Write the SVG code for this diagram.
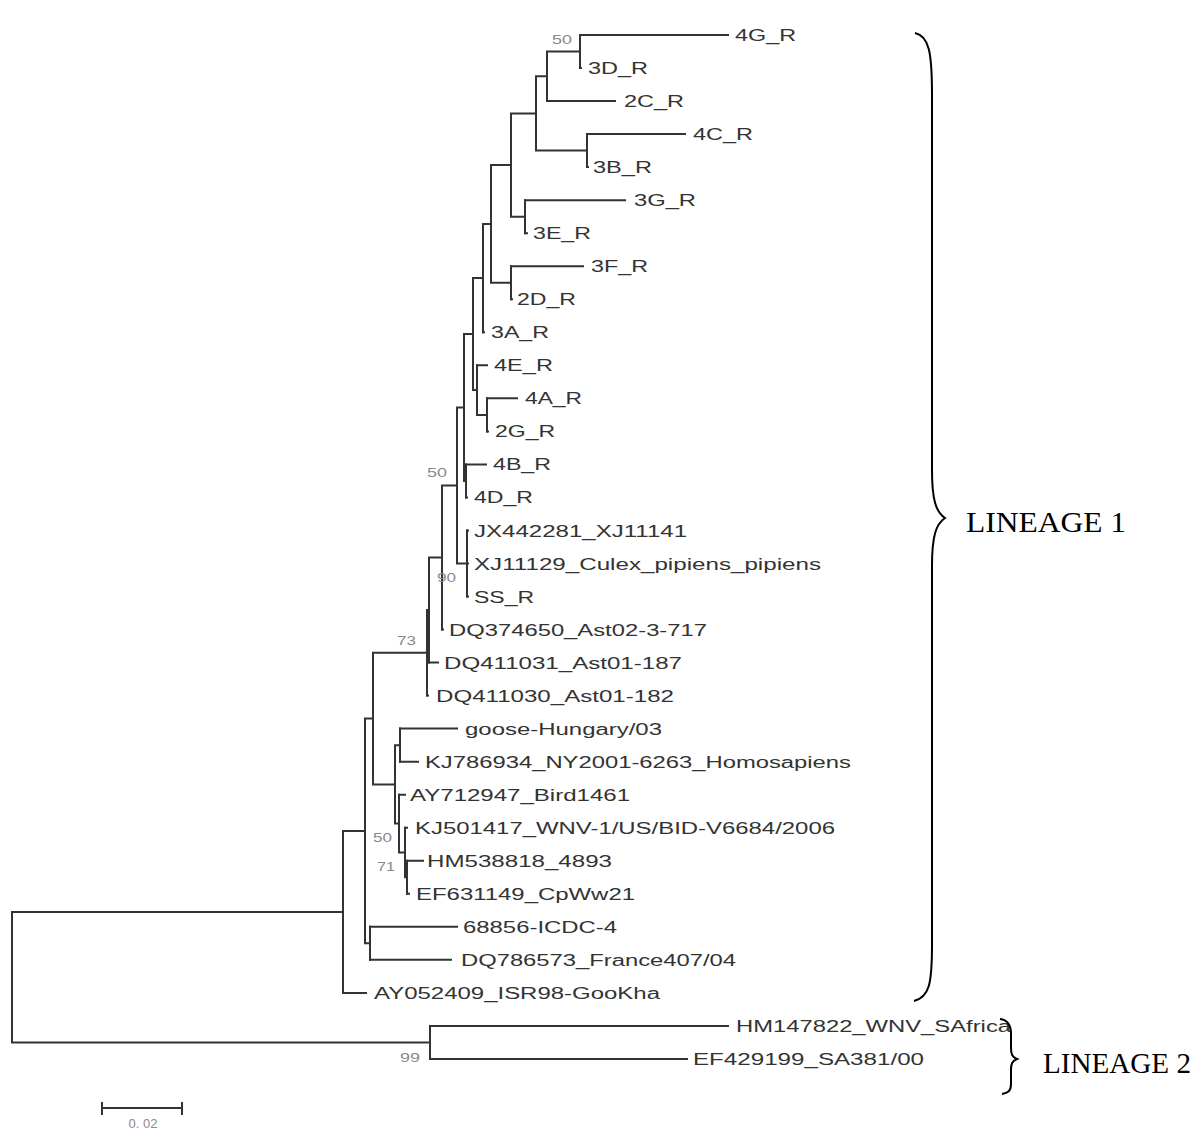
<svg xmlns="http://www.w3.org/2000/svg" width="1201" height="1131" viewBox="0 0 1201 1131">
<style>
.br{fill:none;stroke:#333;stroke-width:2;stroke-linecap:square}
.lb{font-family:"Liberation Sans",Arial,sans-serif;font-size:16px;fill:#333}
.bs{font-family:"Liberation Sans",Arial,sans-serif;font-size:13px;fill:#8a8a8a}
.ln{font-family:"Liberation Serif","Times New Roman",serif;font-size:29px;fill:#000}
.brace{fill:none;stroke:#000;stroke-width:2}
</style>
<rect width="1201" height="1131" fill="#fff"/>
<g id="connectors">
<path class="br" d="M580,35H728 M580,68H581 M547,101.1H615 M587,134.1H685 M587,167.1H588 M525,200.2H625 M525,233.2H527 M511,266.2H583 M511,299.2H512 M483,332.3H484 M477,365.3H487 M487,398.3H517 M487,431.4H488 M466,464.4H486 M466,497.4H467 M467,530.5H468 M467,563.5H468 M467,596.5H468 M442,629.5H443 M429,662.6H438 M427,695.6H428 M400,728.6H457 M400,761.7H418 M399,794.7H405 M405,827.7H407 M407,860.8H423 M407,893.8H409 M370,926.8H457 M370,959.8H451 M343,992.9H366 M430,1025.9H728 M430,1058.9H687"/>
<path class="br" d="M547,51.5H580 M580,35V68
M536,76.3H547 M547,51.5V101.1
M536,150.6H587 M587,134.1V167.1
M511,113.5H536 M536,76.3V150.6
M511,216.7H525 M525,200.2V233.2
M491,165.1H511 M511,113.5V216.7
M491,282.7H511 M511,266.2V299.2
M483,223.9H491 M491,165.1V282.7
M473,278.1H483 M483,223.9V332.3
M477,414.9H487 M487,398.3V431.4
M473,390.1H477 M477,365.3V414.9
M464,334.1H473 M473,278.1V390.1
M464,480.9H466 M466,464.4V497.4
M457,407.5H464 M464,334.1V480.9
M457,563.5H467 M467,530.5V596.5
M442,485.5H457 M457,407.5V563.5
M429,557.5H442 M442,485.5V629.5
M427,610.1H429 M429,557.5V662.6
M373,652.8H427 M427,610.1V695.6
M395,745.2H400 M400,728.6V761.7
M405,877.3H407 M407,860.8V893.8
M399,852.5H405 M405,827.7V877.3
M395,823.6H399 M399,794.7V852.5
M373,784.4H395 M395,745.2V823.6
M365,718.6H373 M373,652.8V784.4
M365,943.3H370 M370,926.8V959.8
M343,831H365 M365,718.6V943.3
M12,911.9H343 M343,831V992.9
M12,1042.4H430 M430,1025.9V1058.9
M12,911.9V1042.4"/>
</g>
<g id="bootstrap">
<text class="bs" x="552" y="44" textLength="20" lengthAdjust="spacingAndGlyphs">50</text>
<text class="bs" x="427" y="477" textLength="20" lengthAdjust="spacingAndGlyphs">50</text>
<text class="bs" x="437" y="582" textLength="19" lengthAdjust="spacingAndGlyphs">90</text>
<text class="bs" x="397" y="645" textLength="19" lengthAdjust="spacingAndGlyphs">73</text>
<text class="bs" x="373" y="842" textLength="19" lengthAdjust="spacingAndGlyphs">50</text>
<text class="bs" x="377" y="871" textLength="18" lengthAdjust="spacingAndGlyphs">71</text>
<text class="bs" x="400" y="1062" textLength="20" lengthAdjust="spacingAndGlyphs">99</text>
</g>
<g id="n-4G_R"><text class="lb" x="735" y="41" textLength="61" lengthAdjust="spacingAndGlyphs">4G_R</text></g>
<g id="n-3D_R"><text class="lb" x="588" y="74" textLength="60" lengthAdjust="spacingAndGlyphs">3D_R</text></g>
<g id="n-2C_R"><text class="lb" x="624" y="107.1" textLength="60" lengthAdjust="spacingAndGlyphs">2C_R</text></g>
<g id="n-4C_R"><text class="lb" x="693" y="140.1" textLength="60" lengthAdjust="spacingAndGlyphs">4C_R</text></g>
<g id="n-3B_R"><text class="lb" x="593" y="173.1" textLength="59" lengthAdjust="spacingAndGlyphs">3B_R</text></g>
<g id="n-3G_R"><text class="lb" x="634" y="206.2" textLength="62" lengthAdjust="spacingAndGlyphs">3G_R</text></g>
<g id="n-3E_R"><text class="lb" x="533" y="239.2" textLength="58" lengthAdjust="spacingAndGlyphs">3E_R</text></g>
<g id="n-3F_R"><text class="lb" x="591" y="272.2" textLength="57" lengthAdjust="spacingAndGlyphs">3F_R</text></g>
<g id="n-2D_R"><text class="lb" x="517" y="305.2" textLength="59" lengthAdjust="spacingAndGlyphs">2D_R</text></g>
<g id="n-3A_R"><text class="lb" x="491" y="338.3" textLength="58" lengthAdjust="spacingAndGlyphs">3A_R</text></g>
<g id="n-4E_R"><text class="lb" x="494" y="371.3" textLength="59" lengthAdjust="spacingAndGlyphs">4E_R</text></g>
<g id="n-4A_R"><text class="lb" x="525" y="404.3" textLength="57" lengthAdjust="spacingAndGlyphs">4A_R</text></g>
<g id="n-2G_R"><text class="lb" x="495" y="437.4" textLength="60" lengthAdjust="spacingAndGlyphs">2G_R</text></g>
<g id="n-4B_R"><text class="lb" x="493" y="470.4" textLength="58" lengthAdjust="spacingAndGlyphs">4B_R</text></g>
<g id="n-4D_R"><text class="lb" x="474" y="503.4" textLength="59" lengthAdjust="spacingAndGlyphs">4D_R</text></g>
<g id="n-JX442281"><text class="lb" x="474" y="536.5" textLength="213" lengthAdjust="spacingAndGlyphs">JX442281_XJ11141</text></g>
<g id="n-XJ11129"><text class="lb" x="474" y="569.5" textLength="347" lengthAdjust="spacingAndGlyphs">XJ11129_Culex_pipiens_pipiens</text></g>
<g id="n-SS_R"><text class="lb" x="474" y="602.5" textLength="60" lengthAdjust="spacingAndGlyphs">SS_R</text></g>
<g id="n-DQ374650"><text class="lb" x="449" y="635.5" textLength="258" lengthAdjust="spacingAndGlyphs">DQ374650_Ast02-3-717</text></g>
<g id="n-DQ411031"><text class="lb" x="444" y="668.6" textLength="238" lengthAdjust="spacingAndGlyphs">DQ411031_Ast01-187</text></g>
<g id="n-DQ411030"><text class="lb" x="436" y="701.6" textLength="238" lengthAdjust="spacingAndGlyphs">DQ411030_Ast01-182</text></g>
<g id="n-goose"><text class="lb" x="465" y="734.6" textLength="197" lengthAdjust="spacingAndGlyphs">goose-Hungary/03</text></g>
<g id="n-KJ786934"><text class="lb" x="425" y="767.7" textLength="426" lengthAdjust="spacingAndGlyphs">KJ786934_NY2001-6263_Homosapiens</text></g>
<g id="n-AY712947"><text class="lb" x="410" y="800.7" textLength="220" lengthAdjust="spacingAndGlyphs">AY712947_Bird1461</text></g>
<g id="n-KJ501417"><text class="lb" x="415" y="833.7" textLength="420" lengthAdjust="spacingAndGlyphs">KJ501417_WNV-1/US/BID-V6684/2006</text></g>
<g id="n-HM538818"><text class="lb" x="427" y="866.8" textLength="185" lengthAdjust="spacingAndGlyphs">HM538818_4893</text></g>
<g id="n-EF631149"><text class="lb" x="416" y="899.8" textLength="219" lengthAdjust="spacingAndGlyphs">EF631149_CpWw21</text></g>
<g id="n-68856"><text class="lb" x="463" y="932.8" textLength="154" lengthAdjust="spacingAndGlyphs">68856-ICDC-4</text></g>
<g id="n-DQ786573"><text class="lb" x="461" y="965.8" textLength="275" lengthAdjust="spacingAndGlyphs">DQ786573_France407/04</text></g>
<g id="n-AY052409"><text class="lb" x="374" y="998.9" textLength="286" lengthAdjust="spacingAndGlyphs">AY052409_ISR98-GooKha</text></g>
<g id="n-HM147822"><text class="lb" x="736" y="1031.9" textLength="275" lengthAdjust="spacingAndGlyphs">HM147822_WNV_SAfrica</text></g>
<g id="n-EF429199"><text class="lb" x="693" y="1064.9" textLength="231" lengthAdjust="spacingAndGlyphs">EF429199_SA381/00</text></g>
<g id="lineage1">
<path class="brace" d="M915,33 C929,36 932,52 932,95 L932,470 C932,500 936,512 945,518 C936,524 932,536 932,566 L932,945 C932,985 929,997 914,1001"/>
<text class="ln" x="966" y="532" textLength="160" lengthAdjust="spacingAndGlyphs">LINEAGE 1</text>
</g>
<g id="lineage2">
<path class="brace" d="M1000,1019 C1008,1020 1011,1025 1011,1034 L1011,1048 C1011,1054 1012,1057 1017,1059 C1012,1061 1011,1064 1011,1070 L1011,1084 C1011,1091 1008,1093 1002,1094"/>
<text class="ln" x="1043" y="1073" textLength="148" lengthAdjust="spacingAndGlyphs">LINEAGE 2</text>
</g>
<g id="scalebar">
<path class="br" d="M102,1108H182 M102,1103V1114 M182,1103V1114"/>
<text class="bs" x="143" y="1128" text-anchor="middle" font-size="12">0. 02</text>
</g>
</svg>
